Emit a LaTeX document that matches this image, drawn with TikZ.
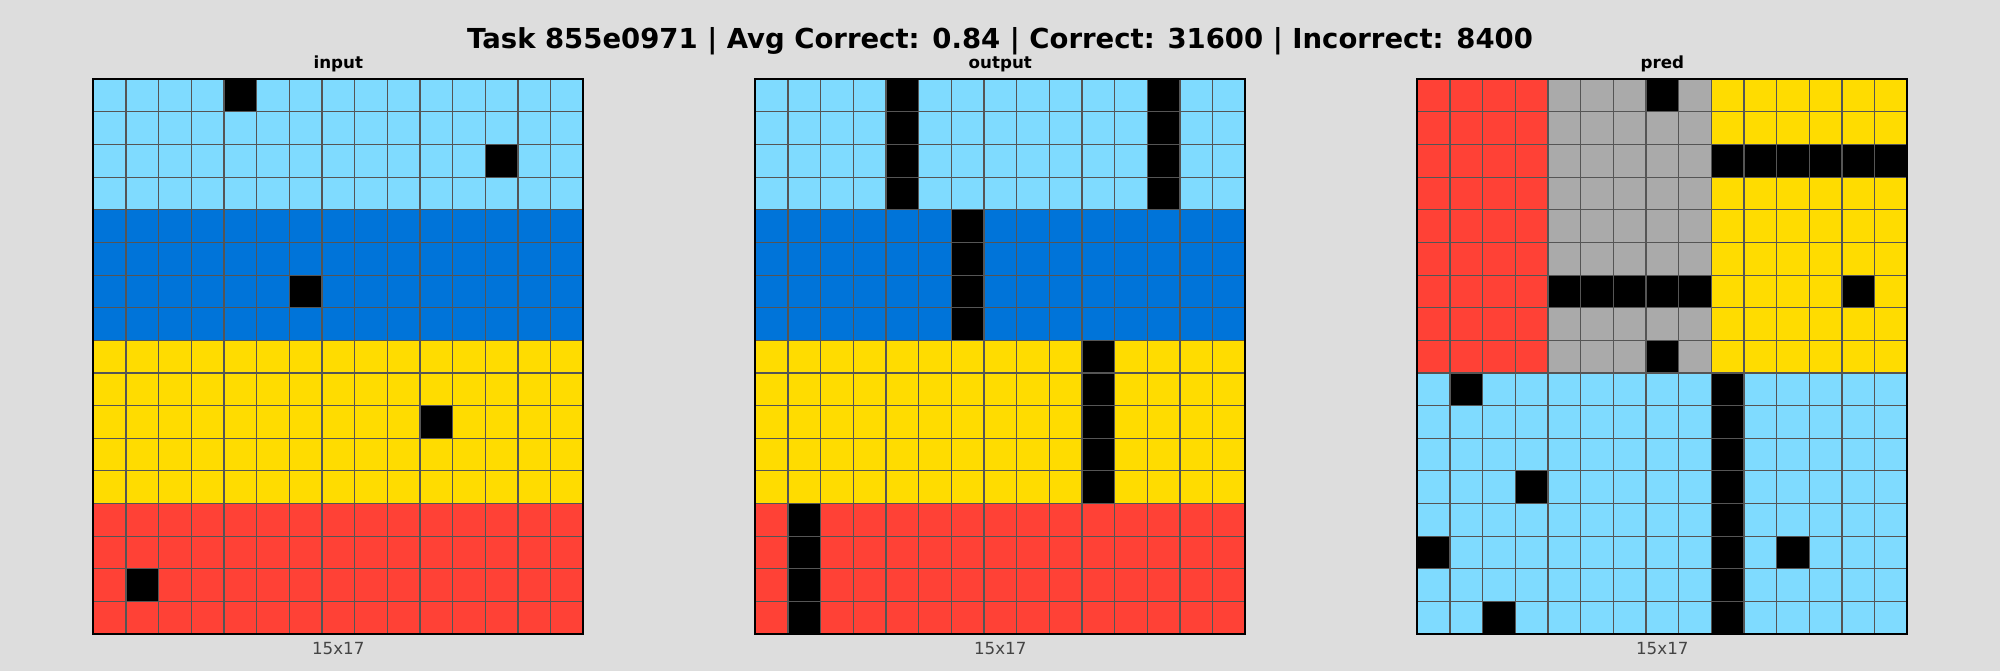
\documentclass[tikz,border=0pt]{standalone}
\usepackage{fontspec}
\setmainfont{DejaVu Sans}
\definecolor{bg}{HTML}{DDDDDD}
\definecolor{az}{HTML}{7FDBFF}
\definecolor{bl}{HTML}{0074D9}
\definecolor{ye}{HTML}{FFDC00}
\definecolor{rd}{HTML}{FF4136}
\definecolor{gy}{HTML}{AAAAAA}
\definecolor{gridc}{HTML}{555555}
\definecolor{dimtext}{HTML}{444444}
\tikzset{
  titletext/.style={font=\bfseries\fontsize{27.5}{32}\selectfont, anchor=base, inner sep=0pt},
  paneltext/.style={font=\bfseries\fontsize{16.7}{20}\selectfont, anchor=base, inner sep=0pt},
  sizetext/.style={font=\fontsize{16.7}{20}\selectfont, anchor=base, inner sep=0pt, text=dimtext},
  gridline/.style={draw=gridc, line width=1.1pt},
  gridborder/.style={draw=black, line width=1.8pt},
  panel/.style={x=32.667pt, y=-32.63pt}
}
\newcommand{\gridlines}{%
  \foreach \i in {1,...,14} \draw[gridline] (\i,0) -- (\i,17);
  \foreach \j in {1,...,16} \draw[gridline] (0,\j) -- (15,\j);
  \draw[gridborder] (0,0) rectangle (15,17);
}
\begin{document}
\begin{tikzpicture}[x=1pt,y=-1pt]
\useasboundingbox[fill=bg] (0,0) rectangle (2000,671);

% ---------- input ----------
\begin{scope}[shift={(93.3pt,-79.3pt)}, panel]
  \fill[az] (0,0) rectangle (15,4);
  \fill[bl] (0,4) rectangle (15,8);
  \fill[ye] (0,8) rectangle (15,13);
  \fill[rd] (0,13) rectangle (15,17);
  \foreach \c/\r in {4/0,12/2,6/6,10/10,1/15}
    \fill[black] (\c,\r) rectangle ++(1,1);
  \gridlines
\end{scope}

% ---------- output ----------
\begin{scope}[shift={(755.3pt,-79.3pt)}, panel]
  \fill[az] (0,0) rectangle (15,4);
  \fill[bl] (0,4) rectangle (15,8);
  \fill[ye] (0,8) rectangle (15,13);
  \fill[rd] (0,13) rectangle (15,17);
  \fill[black] (4,0) rectangle (5,4);
  \fill[black] (12,0) rectangle (13,4);
  \fill[black] (6,4) rectangle (7,8);
  \fill[black] (10,8) rectangle (11,13);
  \fill[black] (1,13) rectangle (2,17);
  \gridlines
\end{scope}

% ---------- pred ----------
\begin{scope}[shift={(1417.3pt,-79.3pt)}, panel]
  \fill[rd] (0,0) rectangle (4,9);
  \fill[gy] (4,0) rectangle (9,9);
  \fill[ye] (9,0) rectangle (15,9);
  \fill[az] (0,9) rectangle (15,17);
  \fill[black] (9,2) rectangle (15,3);
  \fill[black] (4,6) rectangle (9,7);
  \fill[black] (9,9) rectangle (10,17);
  \foreach \c/\r in {7/0,13/6,7/8,1/9,3/12,0/14,11/14,2/16}
    \fill[black] (\c,\r) rectangle ++(1,1);
  \gridlines
\end{scope}

% ---------- texts ----------
\node[titletext] (title) at (1000,48.3) {Task 855e0971 | Avg Correct: 0.84 | Correct: 31600 | Incorrect: 8400};
\node[paneltext] (linput) at (338.3,68.6) {input};
\node[paneltext] (loutput) at (1000.3,68.6) {output};
\node[paneltext] (lpred) at (1662.3,68.6) {pred};
\node[sizetext] (sinput) at (338.3,654) {15x17};
\node[sizetext] (soutput) at (1000.3,654) {15x17};
\node[sizetext] (spred) at (1662.3,654) {15x17};
\end{tikzpicture}
\end{document}
